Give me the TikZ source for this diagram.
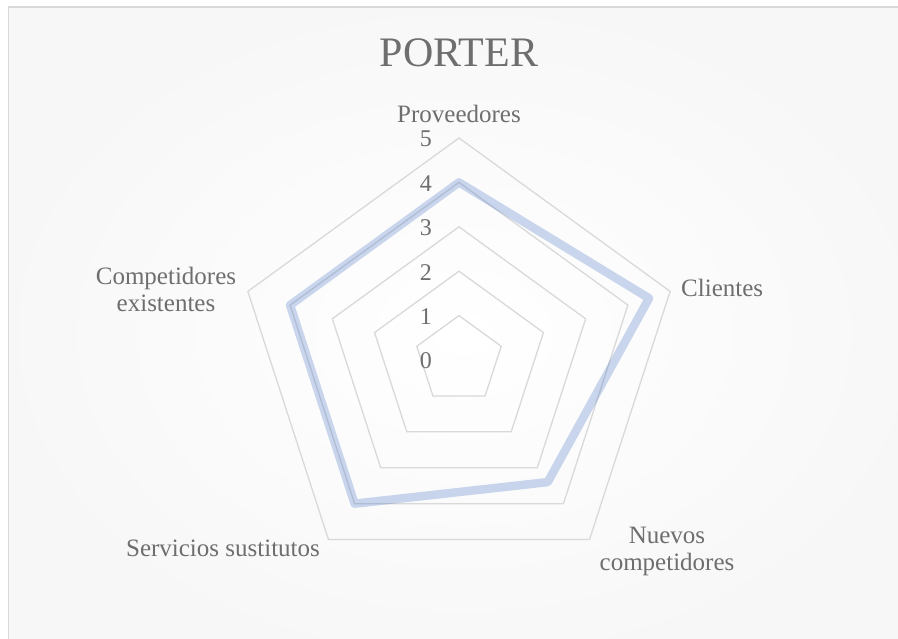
\documentclass[tikz,border=0pt]{standalone}
\usepackage{fontspec}
\setmainfont{Liberation Serif}
\usetikzlibrary{positioning}
\definecolor{gridgray}{RGB}{217,217,217}
\definecolor{textgray}{RGB}{110,110,110}
\definecolor{seriesblue}{RGB}{68,114,196}
\tikzset{grid line/.style={draw=gridgray,line width=1.3pt},data line/.style={draw=seriesblue,opacity=0.28,line width=8.5pt,line join=round},axis label/.style={text=textgray,inner sep=0pt,font=\fontsize{25}{27}\selectfont},tick label/.style={text=textgray,inner sep=0pt,font=\fontsize{24}{24}\selectfont}}

\begin{document}
\begin{tikzpicture}[x=1pt,y=1pt]
    \useasboundingbox (-459,-279) rectangle (439,360);
    \clip (-459,-279) rectangle (439,360);
    \path[draw=gridgray,line width=1.5pt,inner color=white,outer color=black!3] (-450.5,-300) rectangle (460,353);
    \foreach \v in {1,...,5}
      \draw[grid line] (90:{\v*44.4}) -- (18:{\v*44.4}) -- (-54:{\v*44.4}) -- (-126:{\v*44.4}) -- (162:{\v*44.4}) -- cycle;
    \foreach \v in {0,...,5}
      \node[tick label,anchor=base] (t\v) at (-33,{\v*44.4-9}) {\v};
    \coordinate (dprov) at (90:{4*44.4});
    \coordinate (dcli) at (18:{4.5*44.4});
    \coordinate (dnue) at (-54:{3.4*44.4});
    \coordinate (dser) at (-126:{4*44.4});
    \coordinate (dcom) at (162:{4*44.4});
    \draw[data line] (dprov) -- (dcli) -- (dnue) -- (dser) -- (dcom) -- cycle;
    \node[text=textgray,inner sep=0pt,font=\fontsize{42}{42}\selectfont,anchor=base] (title) at (0,293) {PORTER};
    \node[axis label,anchor=base] (lprov) at (0,237) {Proveedores};
    \node[axis label,anchor=base west] (lcli) at (222,63) {Clientes};
    \node[axis label,align=center] (lnue) at (208,-191) {Nuevos\\competidores};
    \node[axis label,anchor=base] (lser) at (-236,-197) {Servicios sustitutos};
    \node[axis label,align=center] (lcom) at (-293,71) {Competidores\\existentes};
  \end{tikzpicture}
\end{document}
